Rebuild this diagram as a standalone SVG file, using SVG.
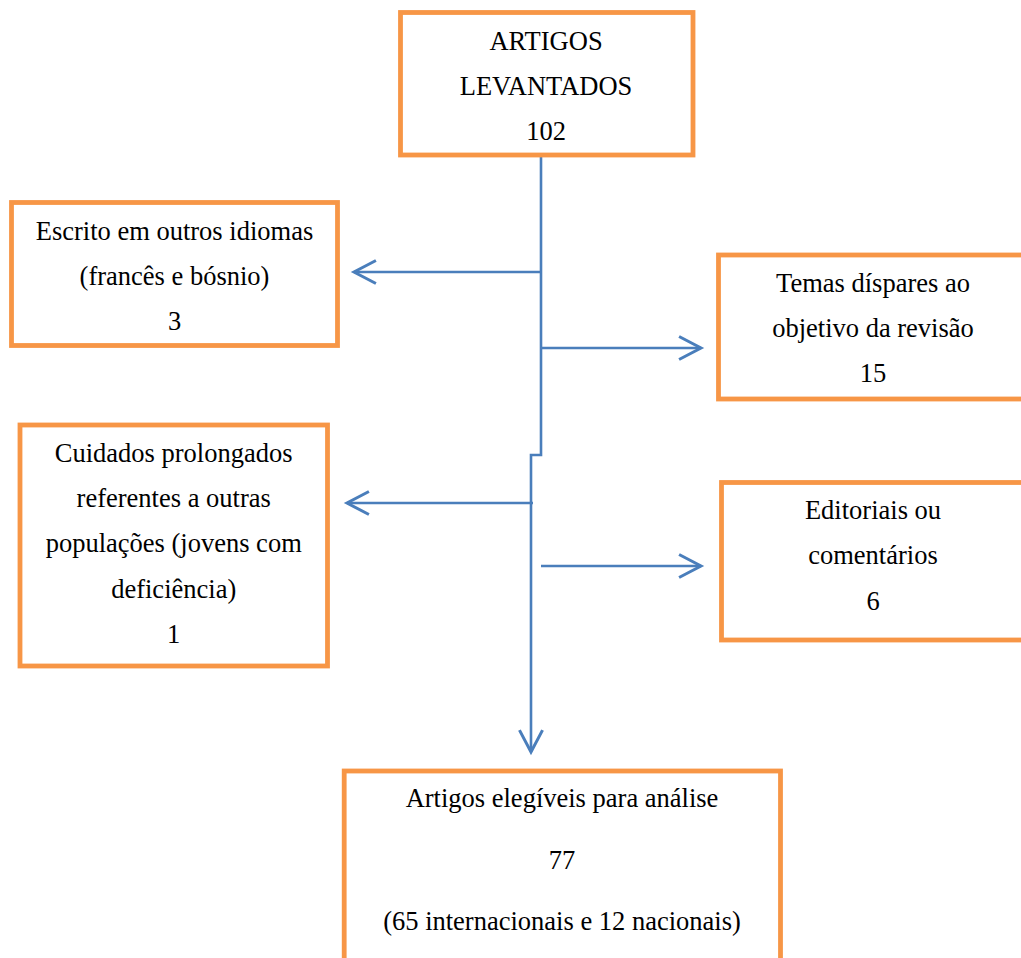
<svg xmlns="http://www.w3.org/2000/svg" width="1021" height="958" viewBox="0 0 1021 958">
<style>
.box{fill:#fff;stroke:#F79646;stroke-width:4.8}
.t{font-family:"Liberation Serif","Times New Roman",serif;font-size:26.5px;fill:#000;text-anchor:middle}
.c{fill:none;stroke:#4A7EBB;stroke-width:2.6}
</style>
<defs>
<marker id="ah" markerUnits="userSpaceOnUse" orient="auto" markerWidth="30" markerHeight="30" refX="0" refY="0" viewBox="-22 -13 26 26" overflow="visible">
<path d="M-19,-10 L0,0 L-19,10" fill="none" stroke="#4A7EBB" stroke-width="2.6"/>
</marker>
</defs>
<rect width="1021" height="958" fill="#fff"/>
<g id="connectors">
<path class="c" d="M541,155 V455 H531 V752" marker-end="url(#ah)"/>
<path class="c" d="M541,272 H354" marker-end="url(#ah)"/>
<path class="c" d="M541,348 H701" marker-end="url(#ah)"/>
<path class="c" d="M533,503 H347" marker-end="url(#ah)"/>
<path class="c" d="M541,566 H701" marker-end="url(#ah)"/>
</g>
<g id="n-levantados">
<rect class="box" x="400.5" y="12.5" width="292.5" height="142.5"/>
<text class="t" x="546" y="50">ARTIGOS</text>
<text class="t" x="546" y="95">LEVANTADOS</text>
<text class="t" x="546" y="140">102</text>
</g>
<g id="n-idiomas">
<rect class="box" x="11.5" y="202.5" width="326" height="143"/>
<text class="t" x="174.5" y="240">Escrito em outros idiomas</text>
<text class="t" x="174.5" y="285">(francês e bósnio)</text>
<text class="t" x="174.5" y="330">3</text>
</g>
<g id="n-temas">
<rect class="box" x="718.5" y="255" width="320" height="144"/>
<text class="t" x="873" y="291.5">Temas díspares ao</text>
<text class="t" x="873" y="336.5">objetivo da revisão</text>
<text class="t" x="873" y="381.5">15</text>
</g>
<g id="n-cuidados">
<rect class="box" x="20" y="425" width="307.5" height="241"/>
<text class="t" x="173.7" y="461.5">Cuidados prolongados</text>
<text class="t" x="173.7" y="507">referentes a outras</text>
<text class="t" x="173.7" y="552">populações (jovens com</text>
<text class="t" x="173.7" y="597.5">deficiência)</text>
<text class="t" x="173.7" y="643">1</text>
</g>
<g id="n-editoriais">
<rect class="box" x="721.5" y="482.5" width="320" height="157.5"/>
<text class="t" x="873" y="518.5">Editoriais ou</text>
<text class="t" x="873" y="564">comentários</text>
<text class="t" x="873" y="610">6</text>
</g>
<g id="n-elegiveis">
<rect class="box" x="344.2" y="771" width="436.3" height="220"/>
<text class="t" x="562" y="806.5">Artigos elegíveis para análise</text>
<text class="t" x="562" y="869">77</text>
<text class="t" x="562" y="930">(65 internacionais e 12 nacionais)</text>
</g>
</svg>
